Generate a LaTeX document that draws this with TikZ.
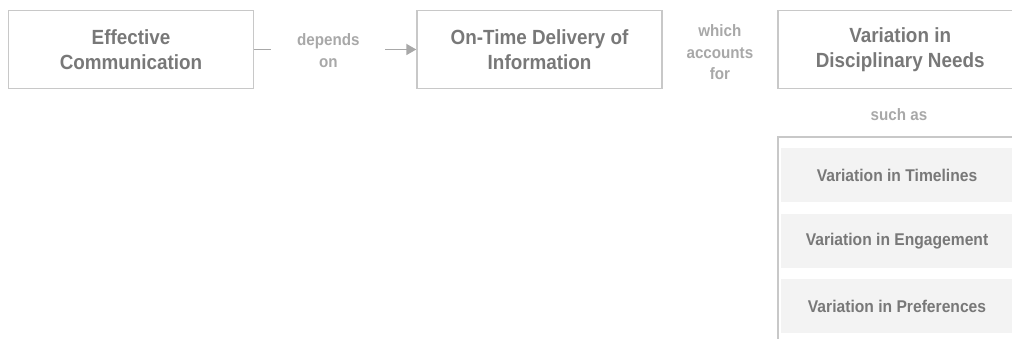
\documentclass[tikz,border=0pt]{standalone}
\usepackage{fontspec}
\setmainfont{Liberation Sans}[FakeStretch=0.92]
\usepackage{xcolor}
\usetikzlibrary{positioning,arrows.meta,calc}

\definecolor{framegray}{HTML}{C8C8C8}
\definecolor{textgray}{HTML}{787878}
\definecolor{labelgray}{HTML}{A8A8A8}
\definecolor{itemfill}{HTML}{F3F3F3}

\begin{document}
\begin{tikzpicture}[
    >=Stealth,
    x=1pt, y=1pt,
    conceptbox/.style={draw=framegray, line width=1.6pt, minimum width=245pt,
        minimum height=78pt, align=center, text=textgray,
        font=\bfseries\fontsize{20.5}{24.5}\selectfont},
    linklabel/.style={align=center, text=labelgray,
        font=\bfseries\fontsize{16.5}{21.5}\selectfont},
    itembox/.style={fill=itemfill, minimum width=232pt, minimum height=54pt,
        text=textgray, font=\bfseries\fontsize{17}{20}\selectfont},
    linkline/.style={draw=labelgray, line width=1.8pt}
]
\useasboundingbox (0,0) rectangle (1012,339);

%-------------------------
% Concept boxes
%-------------------------
\node[conceptbox] (comm) at (131,289.5) {Effective\\Communication};
\node[conceptbox, right=162pt of comm] (delivery) {On-Time Delivery of\\Information};
\node[conceptbox, right=114pt of delivery] (needs) {Variation in\\Disciplinary Needs};

%-------------------------
% Link: depends on
%-------------------------
\coordinate[right=17pt of comm.east] (dependsA);
\coordinate[left=31pt of delivery.west] (dependsB);
\node[linklabel] (depends) at ($(dependsA)!0.5!(dependsB)+(0,-1)$) {depends\\on};
\draw[linkline] (comm.east) -- (dependsA);
\draw[linkline, -{Triangle[length=10pt, width=11pt]}] (dependsB) -- (delivery.west);

%-------------------------
% Link: which accounts for
%-------------------------
\node[linklabel] (accounts) at ($(delivery.east)!0.5!(needs.west)+(0,-3)$) {which\\accounts\\for};

%-------------------------
% List of variations
%-------------------------
\node[linklabel] (suchas) at (899,224) {such as};

\node[itembox] (timelines) at (897,163.5) {Variation in Timelines};
\node[itembox, below=11pt of timelines] (engagement) {Variation in Engagement};
\node[itembox, below=11pt of engagement] (preferences) {Variation in Preferences};

% Frame on the left and top
\coordinate (listTop) at (778,202);
\draw[framegray, line width=1.6pt] (1012,202) -- (listTop) -- (778,0);
\end{tikzpicture}
\end{document}
